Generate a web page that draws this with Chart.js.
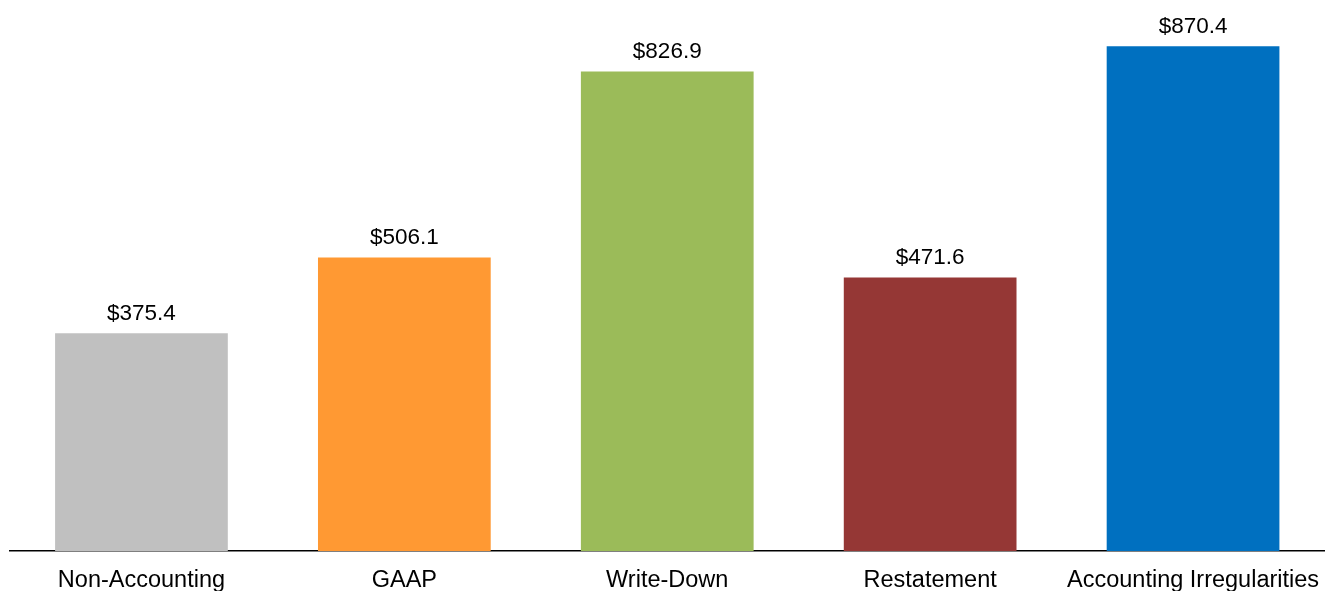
<!DOCTYPE html>
<html>
<head>
<meta charset="utf-8">
<script src="https://cdn.jsdelivr.net/npm/chart.js@4"></script>
<style>
  html, body { margin: 0; padding: 0; background: #ffffff; }
  #wrap { width: 1335px; height: 591px; position: relative; }
</style>
</head>
<body>
<div id="wrap"><canvas id="costChart"></canvas></div>
<script>
// categories and values
const categories = ["Non-Accounting", "GAAP", "Write-Down", "Restatement", "Accounting Irregularities"];
const values = [375.4, 506.1, 826.9, 471.6, 870.4];
const barColors = ["#C0C0C0", "#FF9933", "#9BBB59", "#953735", "#0070C0"];

// draws the "$xxx.x" label above each bar
const valueLabels = {
    id: "valueLabels",
    afterDatasetsDraw(chart) {
        const ctx = chart.ctx;
        const meta = chart.getDatasetMeta(0);
        ctx.save();
        ctx.font = "22.5px 'Liberation Sans', Arial, sans-serif";
        ctx.fillStyle = "#000000";
        ctx.textAlign = "center";
        ctx.textBaseline = "alphabetic";
        meta.data.forEach((bar, i) => {
            ctx.fillText("$" + values[i].toFixed(1), bar.x, bar.y - 13);
        });
        ctx.restore();
    }
};

const ctx = document.getElementById("costChart").getContext("2d");

new Chart(ctx, {
    type: "bar",
    data: {
        labels: categories,
        datasets: [{
            data: values,
            backgroundColor: barColors,
            borderWidth: 0,
            barPercentage: 0.657,
            categoryPercentage: 1.0
        }]
    },
    options: {
        responsive: true,
        maintainAspectRatio: false,
        animation: false,
        layout: { padding: { left: 10, right: 9, top: 0, bottom: 0 } },
        plugins: {
            legend: { display: false },
            tooltip: { enabled: false }
        },
        scales: {
            x: {
                grid: { display: false, drawTicks: false },
                border: { display: true, color: "#000000", width: 1.5 },
                afterFit: (scale) => { scale.height = 40; },
                ticks: {
                    color: "#000000",
                    padding: 15,
                    maxRotation: 0,
                    autoSkip: false,
                    font: { family: "'Liberation Sans', Arial, sans-serif", size: 23.5, lineHeight: 1.2 }
                }
            },
            y: {
                display: false,
                min: 0,
                max: 950
            }
        }
    },
    plugins: [valueLabels]
});
</script>
</body>
</html>
